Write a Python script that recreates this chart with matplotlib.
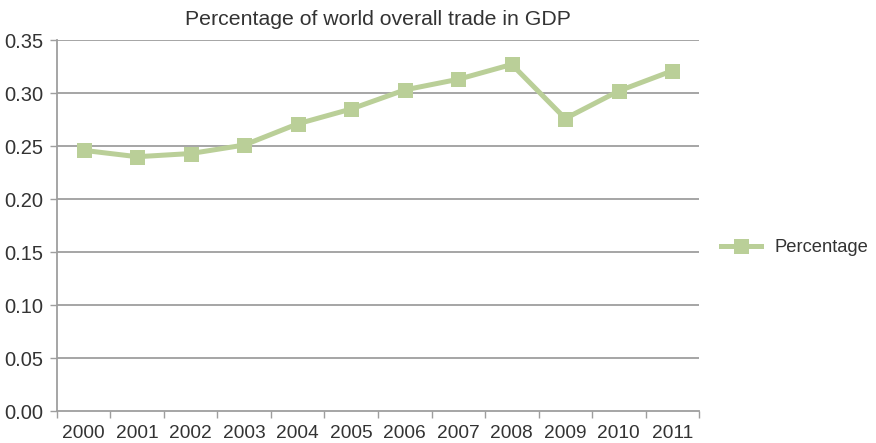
import matplotlib
matplotlib.use("Agg")
import matplotlib.pyplot as plt
from matplotlib.ticker import FixedLocator

plt.rcParams['font.family'] = ['Liberation Sans', 'DejaVu Sans']

years = ['2000', '2001', '2002', '2003', '2004', '2005',
         '2006', '2007', '2008', '2009', '2010', '2011']
percentage = [0.246, 0.240, 0.243, 0.251, 0.271, 0.285,
              0.303, 0.313, 0.327, 0.276, 0.302, 0.321]
yticks = [0.00, 0.05, 0.10, 0.15, 0.20, 0.25, 0.30, 0.35]

green = '#BACF98'
grid_gray = '#9E9E9E'
text_col = '#333333'

fig = plt.figure(figsize=(8.76, 4.43), dpi=100)
ax = fig.add_axes([0.065, 0.0716, 0.733, 0.838])

x = list(range(len(years)))
ax.plot(x, percentage, color=green, lw=3.6, marker='s', markersize=10.8,
        markeredgewidth=0, label='Percentage', solid_joinstyle='miter')

ax.set_xlim(-0.5, len(years) - 0.5)
ax.set_ylim(0, 0.35)
ax.set_yticks(yticks)
ax.set_yticklabels([f'{v:.2f}' for v in yticks])
for v in yticks[1:]:
    ax.axhline(v, color=grid_gray, lw=1.3, zorder=0)

# year labels sit between the tick marks
ax.set_xticks(x)
ax.set_xticklabels(years)
ax.xaxis.set_minor_locator(FixedLocator([i - 0.5 for i in range(len(years) + 1)]))
ax.tick_params(axis='x', which='major', length=0, pad=10, labelsize=13.8, colors=text_col)
ax.tick_params(axis='x', which='minor', length=5, width=1, color=grid_gray, direction='out')
ax.tick_params(axis='y', length=5, width=1, color=grid_gray, pad=5, labelsize=14.5,
               labelcolor=text_col)

for side in ['top', 'right']:
    ax.spines[side].set_visible(False)
ax.spines['left'].set_color(grid_gray)
ax.spines['bottom'].set_color(grid_gray)
ax.spines['left'].set_linewidth(1.3)
ax.spines['bottom'].set_linewidth(1.3)

ax.set_title('Percentage of world overall trade in GDP', fontsize=15.3, color=text_col, pad=11)

leg = ax.legend(loc='center left', bbox_to_anchor=(1.0, 0.44), frameon=False,
                fontsize=13.2, handlelength=2.2, handletextpad=0.7, borderaxespad=0.8)
for t in leg.get_texts():
    t.set_color(text_col)

fig.savefig('out.png', dpi=100)
